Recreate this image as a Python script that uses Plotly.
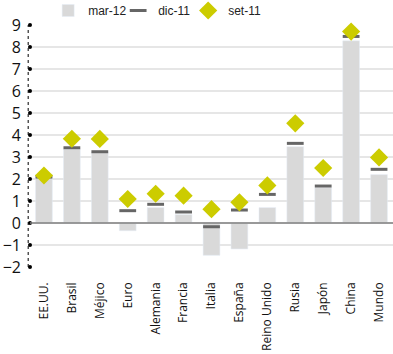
import plotly.graph_objects as go

# Inflation by economy (% y/y)
paises = ["EE.UU.", "Brasil", "Méjico", "Euro", "Alemania", "Francia", "Italia",
          "España", "Reino Unido", "Rusia", "Japón", "China", "Mundo"]
mar_12 = [2.2, 3.35, 3.2, -0.35, 0.7, 0.38, -1.47, -1.18, 0.7, 3.47, 1.6, 8.28, 2.2]
dic_11 = [2.09, 3.42, 3.24, 0.56, 0.85, 0.5, -0.17, 0.59, 1.3, 3.62, 1.68, 8.48, 2.44]
set_11 = [2.16, 3.83, 3.82, 1.09, 1.33, 1.24, 0.63, 0.94, 1.71, 4.53, 2.5, 8.7, 2.98]
y_ticks = list(range(-2, 10))

fig = go.Figure()
fig.add_trace(go.Bar(x=paises, y=mar_12, name="mar-12", marker_color="#d9d9d9",
                     width=0.6))
fig.add_trace(go.Scatter(x=paises, y=dic_11, name="dic-11", mode="markers",
                         marker=dict(symbol="line-ew", size=12,
                                     line=dict(width=3, color="#666666"))))
fig.add_trace(go.Scatter(x=paises, y=set_11, name="set-11", mode="markers",
                         marker=dict(symbol="diamond", size=14, color="#cccc00",
                                     line=dict(width=0))))
# Empty spacer entry so the last legend label has room
fig.add_trace(go.Scatter(x=[None], y=[None], name=" ", mode="lines",
                         line=dict(width=0, color="rgba(0,0,0,0)"), hoverinfo="skip"))
# Dots marking the ticks on the dotted value axis
fig.add_trace(go.Scatter(x=[0] * len(y_ticks), y=y_ticks, xaxis="x2",
                         mode="markers", showlegend=False, hoverinfo="skip",
                         cliponaxis=False,
                         marker=dict(size=4, color="#000000")))

fig.add_shape(type="line", xref="paper", yref="y", x0=-0.005, x1=-0.005, y0=-2, y1=9,
              line=dict(color="#000000", width=1, dash="dot"), layer="above")
fig.add_shape(type="line", xref="paper", yref="y", x0=0, x1=1, y0=0, y1=0,
              line=dict(color="#7f7f7f", width=1.5), layer="above")

fig.update_layout(
    width=393, height=354,
    margin=dict(l=30, r=0, t=25, b=87, autoexpand=False),
    plot_bgcolor="white", paper_bgcolor="white",
    bargap=0.4,
    showlegend=True,
    legend=dict(orientation="h", x=0.05, xanchor="left", y=1.0, yanchor="bottom",
                font=dict(family="Liberation Sans", size=12, color="#222222"),
                entrywidth=25, entrywidthmode="pixels", itemwidth=30,
                bgcolor="rgba(0,0,0,0)"),
    xaxis=dict(type="category", range=[-0.5, 12.5], showgrid=False, zeroline=False,
               showline=False, ticks="", tickangle=-90, ticklabelstandoff=12,
               automargin=False,
               tickfont=dict(family="Open Sans", size=12, color="#111111")),
    xaxis2=dict(overlaying="x", range=[0, 1], visible=False),
    yaxis=dict(range=[-2, 9], dtick=1, showgrid=True, gridcolor="#e6e6e6",
               gridwidth=1.5, zeroline=False, showline=False, ticks="",
               ticklabelstandoff=8, automargin=False,
               tickfont=dict(family="Open Sans", size=16, color="#111111")),
)
fig.update_traces(cliponaxis=False, selector=dict(type="scatter"))

fig.write_html("out.html")
